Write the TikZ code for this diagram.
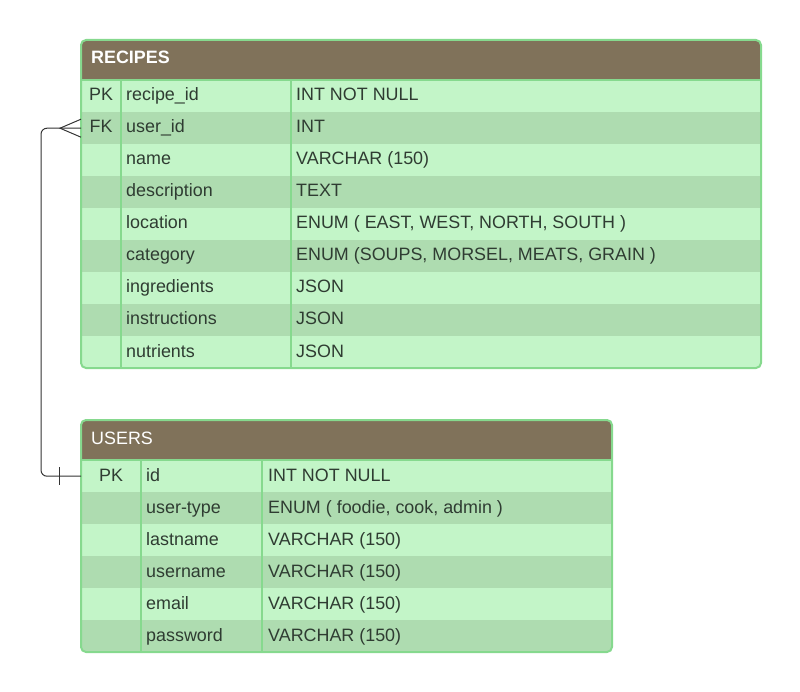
\documentclass[tikz,border=0pt]{standalone}
\usepackage{fontspec}
\setmainfont{Liberation Sans}
\definecolor{hdrcol}{RGB}{128,114,90}
\definecolor{rowlight}{RGB}{195,245,200}
\definecolor{rowdark}{RGB}{174,220,176}
\definecolor{bordcol}{RGB}{134,217,142}
\definecolor{txtcol}{RGB}{47,60,50}
\definecolor{linecol}{RGB}{51,51,51}
\begin{document}
\begin{tikzpicture}[x=1pt,y=-1pt,
  font=\fontsize{17.9}{20}\selectfont,
  hdr/.style={fill=hdrcol, draw=none, inner sep=0, minimum height=40pt, anchor=north west},
  rowbox/.style={draw=none, inner sep=0, minimum height=32pt, anchor=north west},
  lt/.style={rowbox, fill=rowlight},
  dk/.style={rowbox, fill=rowdark},
  txt/.style={anchor=base west, inner sep=0, text=txtcol},
  keytxt/.style={anchor=base, inner sep=0, text=txtcol},
  htxt/.style={anchor=base west, inner sep=0, text=white},
  border/.style={draw=bordcol, line width=2pt},
  colline/.style={draw=bordcol, line width=1.6pt},
  conn/.style={draw=linecol, line width=1pt}]
\useasboundingbox (0,0) rectangle (800,692);

% ---------------- RECIPES ----------------
\begin{scope}
\clip[rounded corners=5pt] (81,40) rectangle (761,368);
\node[hdr, minimum width=680pt] (rh) at (81,40) {};
\node[lt, minimum width=680pt] (r1) at (81,80) {};
\node[dk, minimum width=680pt] (r2) at (81,112) {};
\node[lt, minimum width=680pt] (r3) at (81,144) {};
\node[dk, minimum width=680pt] (r4) at (81,176) {};
\node[lt, minimum width=680pt] (r5) at (81,208) {};
\node[dk, minimum width=680pt] (r6) at (81,240) {};
\node[lt, minimum width=680pt] (r7) at (81,272) {};
\node[dk, minimum width=680pt] (r8) at (81,304) {};
\node[lt, minimum width=680pt] (r9) at (81,336) {};
\end{scope}
\draw[colline] (81,80) -- (761,80);
\draw[colline] (121,80) -- (121,368);
\draw[colline] (291,80) -- (291,368);
\draw[border, rounded corners=5pt] (81,40) rectangle (761,368);

\node[htxt] (rht) at (91,64) {\bfseries RECIPES};
\node[keytxt] (rk1) at (101,101) {PK};
\node[keytxt] (rk2) at (101,133) {FK};
\node[txt] (rn1) at (126,101) {recipe\_id};
\node[txt] (rn2) at (126,133) {user\_id};
\node[txt] (rn3) at (126,165) {name};
\node[txt] (rn4) at (126,197) {description};
\node[txt] (rn5) at (126,229) {location};
\node[txt] (rn6) at (126,261) {category};
\node[txt] (rn7) at (126,293) {ingredients};
\node[txt] (rn8) at (126,325) {instructions};
\node[txt] (rn9) at (126,357) {nutrients};
\node[txt] (rt1) at (296,101) {INT NOT NULL};
\node[txt] (rt2) at (296,133) {INT};
\node[txt] (rt3) at (296,165) {VARCHAR (150)};
\node[txt] (rt4) at (296,197) {TEXT};
\node[txt] (rt5) at (296,229) {ENUM ( EAST, WEST, NORTH, SOUTH )};
\node[txt] (rt6) at (296,261) {ENUM (SOUPS, MORSEL, MEATS, GRAIN )};
\node[txt] (rt7) at (296,293) {JSON};
\node[txt] (rt8) at (296,325) {JSON};
\node[txt] (rt9) at (296,357) {JSON};

% ---------------- USERS ----------------
\begin{scope}
\clip[rounded corners=5pt] (81,420) rectangle (612,652);
\node[hdr, minimum width=531pt] (uh) at (81,420) {};
\node[lt, minimum width=531pt] (u1) at (81,460) {};
\node[dk, minimum width=531pt] (u2) at (81,492) {};
\node[lt, minimum width=531pt] (u3) at (81,524) {};
\node[dk, minimum width=531pt] (u4) at (81,556) {};
\node[lt, minimum width=531pt] (u5) at (81,588) {};
\node[dk, minimum width=531pt] (u6) at (81,620) {};
\end{scope}
\draw[colline] (81,460) -- (612,460);
\draw[colline] (141,460) -- (141,652);
\draw[colline] (262,460) -- (262,652);
\draw[border, rounded corners=5pt] (81,420) rectangle (612,652);

\node[htxt] (uht) at (91,444) {USERS};
\node[keytxt] (uk1) at (111,481) {PK};
\node[txt] (un1) at (146,481) {id};
\node[txt] (un2) at (146,513) {user-type};
\node[txt] (un3) at (146,545) {lastname};
\node[txt] (un4) at (146,577) {username};
\node[txt] (un5) at (146,609) {email};
\node[txt] (un6) at (146,641) {password};
\node[txt] (ut1) at (268,481) {INT NOT NULL};
\node[txt] (ut2) at (268,513) {ENUM ( foodie, cook, admin )};
\node[txt] (ut3) at (268,545) {VARCHAR (150)};
\node[txt] (ut4) at (268,577) {VARCHAR (150)};
\node[txt] (ut5) at (268,609) {VARCHAR (150)};
\node[txt] (ut6) at (268,641) {VARCHAR (150)};

% ---------------- connector ----------------
\draw[conn, rounded corners=6pt] (r2.west) -- ++(-40,0) |- (u1.west);
\draw[conn] ([yshift=9pt]r2.west) -- ++(-21,9) -- ++(21,9);
\draw[conn] ([xshift=-22pt,yshift=9pt]u1.west) -- ++(0,18);
\end{tikzpicture}
\end{document}
